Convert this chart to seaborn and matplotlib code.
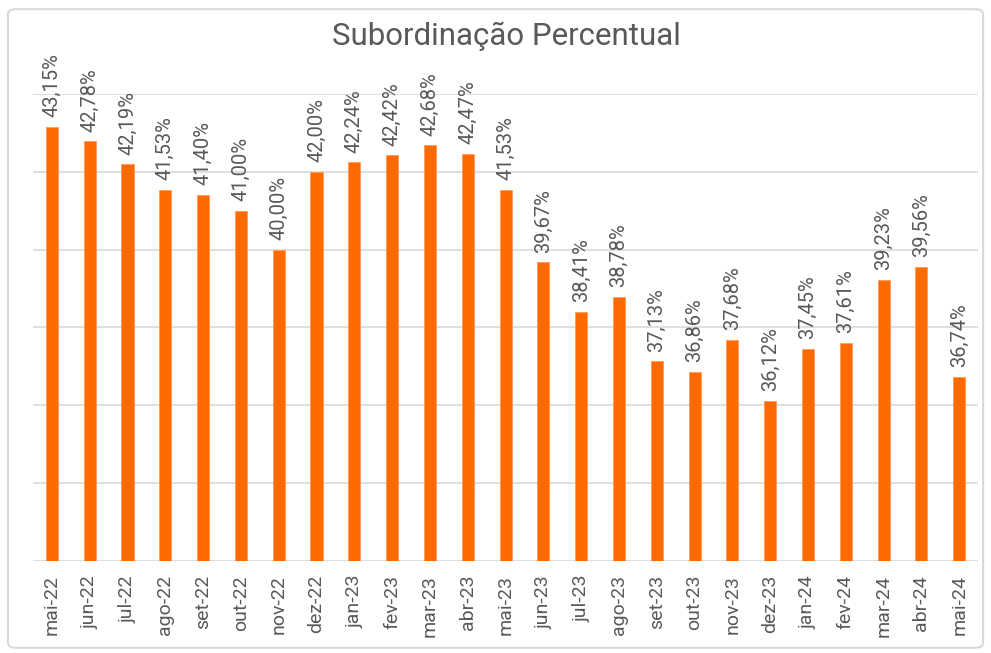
import matplotlib
matplotlib.use("Agg")
import matplotlib.pyplot as plt
import seaborn as sns
import pandas as pd
from matplotlib.patches import FancyBboxPatch

months = ["mai-22", "jun-22", "jul-22", "ago-22", "set-22", "out-22", "nov-22", "dez-22",
          "jan-23", "fev-23", "mar-23", "abr-23", "mai-23", "jun-23", "jul-23", "ago-23",
          "set-23", "out-23", "nov-23", "dez-23", "jan-24", "fev-24", "mar-24", "abr-24", "mai-24"]
values = [43.15, 42.78, 42.19, 41.53, 41.40, 41.00, 40.00, 42.00, 42.24, 42.42, 42.68, 42.47,
          41.53, 39.67, 38.41, 38.78, 37.13, 36.86, 37.68, 36.12, 37.45, 37.61, 39.23, 39.56, 36.74]
title = "Subordinação Percentual"

sns.set_theme(style="white")
plt.rcParams['font.family'] = ['Roboto', 'DejaVu Sans']

df = pd.DataFrame({"mes": months, "valor": values})

fig = plt.figure(figsize=(9.91, 6.53), dpi=100)
ax = fig.add_axes([0.0333, 0.1409, 0.9537, 0.7152])

grey = "#595959"
orange = "#FF6A00"

sns.barplot(data=df, x="mes", y="valor", color=orange, width=0.32, ax=ax,
            saturation=1, edgecolor="#FF9A55", linewidth=0.6, zorder=3)

ax.set_ylim(32, 44)
ax.set_yticks([32, 34, 36, 38, 40, 42, 44])
ax.yaxis.grid(True, color="#D9D9D9", linewidth=1.2, zorder=0)
ax.tick_params(axis="y", left=False, labelleft=False)
ax.set_xlim(-0.5, len(months) - 0.5)
for s in ax.spines.values():
    s.set_visible(False)
ax.set_xlabel("")
ax.set_ylabel("")
ax.tick_params(axis="x", bottom=False, labelsize=14, labelcolor=grey, rotation=90, pad=4)

labels = [f"{v:.2f}%".replace(".", ",") for v in values]
ax.bar_label(ax.containers[0], labels=labels, rotation=90, padding=7,
             fontsize=14.5, color=grey)

fig.text(0.511, 0.944, title, ha="center", va="center", fontsize=22.5, color=grey)

border = FancyBboxPatch((0.008, 0.008), 0.984, 0.978, boxstyle="round,pad=0,rounding_size=0.008",
                        transform=fig.transFigure, fill=False, edgecolor="#D9D9D9", linewidth=1.5)
fig.patches.append(border)

fig.savefig("out.png", dpi=100)
